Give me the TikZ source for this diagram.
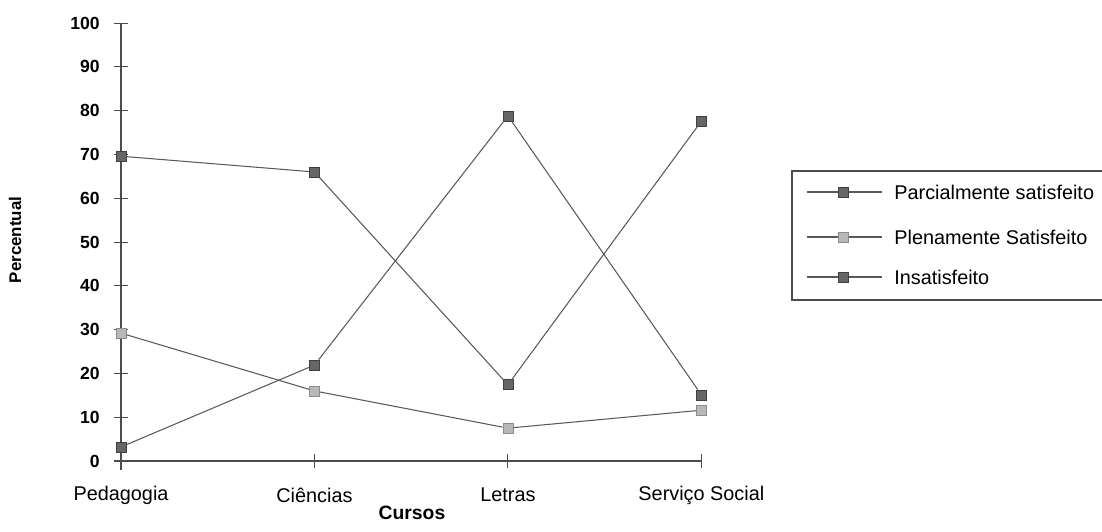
\documentclass[tikz,border=0pt]{standalone}
\usepackage{fontspec}
\setmainfont{Liberation Sans}

\begin{document}
\begin{tikzpicture}[x=0.02cm, y=0.02cm,
  serie/.style={black!65, line width=0.6pt},
  axisline/.style={black!70, line width=0.6pt},
  darkmark/.style={rectangle, draw=black!75, fill=black!60, minimum size=0.2cm, inner sep=0pt},
  lightmark/.style={rectangle, draw=black!45, fill=black!28, minimum size=0.2cm, inner sep=0pt},
  ticklab/.style={font=\bfseries\fontsize{10}{12}\selectfont, inner sep=0pt},
  catlab/.style={font=\fontsize{11.3}{13}\selectfont, inner sep=0pt},
  leglab/.style={font=\fontsize{11.3}{13}\selectfont, inner sep=0pt, anchor=west}]

\useasboundingbox (0,0) rectangle (1102,531);

\begin{scope}[shift={(121,70)}, x=3.87cm, y=0.0876cm]

% Axes
\draw[axisline] ([yshift=-5pt]0,0) -- (0,100);
\draw[axisline] (0,0) -- (3,0);

% Ticks and labels on the y axis
\foreach \y in {0,10,...,100} {
  \draw[axisline] ([xshift=-4pt]0,\y) -- ([xshift=4pt]0,\y);
  \node[ticklab, anchor=east] (yl\y) at ([xshift=-0.42cm]0,\y) {\y};
}

% Courses on the x axis
\foreach \c [count=\i from 0] in {Pedagogia, Ciências, Letras, Serviço Social} {
  \draw[axisline] ([yshift=-4pt]\i,0) -- ([yshift=4pt]\i,0);
  \node[catlab] (cat\i) at ([yshift=-0.68cm]\i,0) {\c};
}

% Parcialmente satisfeito
\foreach \v [count=\i from 0] in {69.6,66.0,17.4,77.6}
  \node[darkmark] (pa\i) at (\i,\v) {};
\draw[serie] (pa0) -- (pa1) -- (pa2) -- (pa3);

% Plenamente Satisfeito
\foreach \v [count=\i from 0] in {29.2,16.0,7.5,11.6}
  \node[lightmark] (pl\i) at (\i,\v) {};
\draw[serie] (pl0) -- (pl1) -- (pl2) -- (pl3);

% Insatisfeito
\foreach \v [count=\i from 0] in {3.2,21.9,78.8,15.1}
  \node[darkmark] (in\i) at (\i,\v) {};
\draw[serie] (in0) -- (in1) -- (in2) -- (in3);

\end{scope}

% Axis titles
\node[font=\bfseries\fontsize{11}{13}\selectfont] (xtitle) at (412,18) {Cursos};
\node[font=\bfseries\fontsize{9.6}{12}\selectfont, rotate=90] (ytitle) at (15,291) {Percentual};

% Legend
\draw[axisline] (1106,360) -- (792,360) -- (792,231) -- (1106,231);
\foreach \name/\lab/\mk/\yy in {lpa/Parcialmente satisfeito/darkmark/339,
                                lpl/Plenamente Satisfeito/lightmark/294,
                                lin/Insatisfeito/darkmark/254} {
  \coordinate (\name-l) at (807,\yy);
  \coordinate (\name-r) at (882,\yy);
  \draw[serie] (\name-l) -- (\name-r);
  \node[\mk] (\name-m) at (843,\yy) {};
  \node[leglab] (\name-t) at (894,\yy) {\lab};
}

\end{tikzpicture}
\end{document}
